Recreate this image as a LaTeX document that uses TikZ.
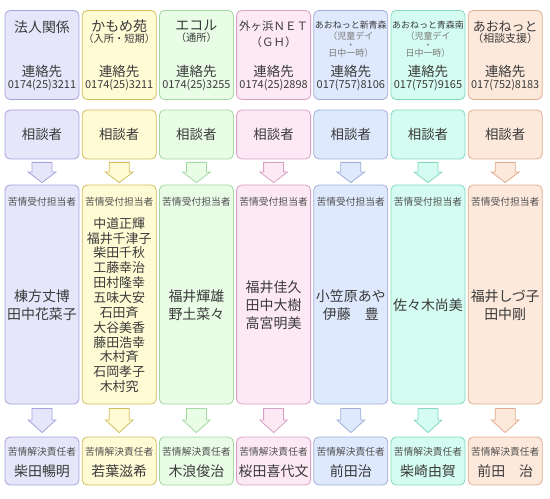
\documentclass[tikz,border=0pt]{standalone}
\usepackage{fontspec}
\setmainfont{Noto Sans CJK JP}
\usetikzlibrary{calc}
\definecolor{ink}{HTML}{3A3A3A}
\definecolor{tagink}{HTML}{505050}
\definecolor{subink}{HTML}{7A7A7A}
\definecolor{fillA}{HTML}{E6E6FB}\definecolor{lineA}{HTML}{A6A1DC}
\definecolor{fillB}{HTML}{FFFBD5}\definecolor{lineB}{HTML}{D0BE5C}
\definecolor{fillC}{HTML}{E8FCE6}\definecolor{lineC}{HTML}{A3D9A3}
\definecolor{fillD}{HTML}{FDE9F4}\definecolor{lineD}{HTML}{D7A0C5}
\definecolor{fillE}{HTML}{DEE9FD}\definecolor{lineE}{HTML}{9FAFD8}
\definecolor{fillF}{HTML}{D4FCF1}\definecolor{lineF}{HTML}{83D8C0}
\definecolor{fillG}{HTML}{FDE9DC}\definecolor{lineG}{HTML}{E0AC8F}

\begin{document}
\begin{tikzpicture}[x=1bp,y=-1bp,
    every node/.style={inner sep=0pt,text=ink},
    panel/.style={draw,rounded corners=5bp,line width=0.8pt,minimum width=74bp},
    bigtxt/.style={font=\fontsize{13.5}{16}\selectfont},
    nametxt/.style={font=\fontsize{14}{18}\selectfont,align=center},
    tagtxt/.style={font=\fontsize{9.8}{12}\selectfont,text=tagink},
    teltxt/.style={font=\fontsize{11}{13}\selectfont},
    blockarrow/.style={line width=0.8pt,line join=miter}
  ]
  \useasboundingbox (0,0) rectangle (550,499);

  % the panels of every column
  \foreach \i/\fc/\lc in {1/fillA/lineA,2/fillB/lineB,3/fillC/lineC,4/fillD/lineD,5/fillE/lineE,6/fillF/lineF,7/fillG/lineG}
  {
    \pgfmathsetmacro\cx{42+77.2*(\i-1)}
    \node[panel,fill=\fc,draw=\lc,minimum height=89bp] (top\i) at (\cx,55) {};
    \node[panel,fill=\fc,draw=\lc,minimum height=49bp] (ask\i) at (\cx,134.5) {};
    \node[panel,fill=\fc,draw=\lc,minimum height=219bp] (recv\i) at (\cx,294.5) {};
    \node[panel,fill=\fc,draw=\lc,minimum height=48bp] (resp\i) at (\cx,461) {};
    \node[bigtxt] (askt\i) at (ask\i) {相談者};
    \node[bigtxt] (cont\i) at (\cx,71.5) {連絡先};
    \node[tagtxt] (rtag\i) at (\cx,202) {苦情受付担当者};
    \node[tagtxt] (stag\i) at (\cx,452) {苦情解決責任者};
    % the arrows
    \coordinate (t\i) at ($(ask\i.south)+(0,3)$);
    \coordinate (h\i) at ($(recv\i.north)+(0,-2)$);
    \draw[blockarrow,fill=\fc,draw=\lc] (h\i) -- ($(t\i)!.48!(h\i)+(13.8,0)$) -- ($(t\i)!.48!(h\i)+(10,0)$)
      -- ($(t\i)+(10,0)$) -- ($(t\i)+(-10,0)$) -- ($(t\i)!.48!(h\i)+(-10,0)$) -- ($(t\i)!.48!(h\i)+(-13.8,0)$) -- cycle;
    \coordinate (u\i) at ($(recv\i.south)+(0,4)$);
    \coordinate (v\i) at ($(resp\i.north)+(0,-4)$);
    \draw[blockarrow,fill=\fc,draw=\lc] (v\i) -- ($(u\i)!.48!(v\i)+(13.8,0)$) -- ($(u\i)!.48!(v\i)+(10,0)$)
      -- ($(u\i)+(10,0)$) -- ($(u\i)+(-10,0)$) -- ($(u\i)!.48!(v\i)+(-10,0)$) -- ($(u\i)!.48!(v\i)+(-13.8,0)$) -- cycle;
  }

  % the phone numbers
  \foreach \i/\tel in {1/0174(25)3211,2/0174(25)3211,3/0174(25)3255,4/0174(25)2898,5/017(757)8106,6/017(757)9165,7/017(752)8183}
    \node[teltxt] (tel\i) at ($(cont\i)+(0,14)$) {\tel};

  % the titles
  \node[anchor=north,font=\fontsize{14}{16}\selectfont] (ttl1) at ($(top1.north)+(0,10)$) {法人関係};
  \node[anchor=north,align=center] (ttl2) at ($(top2.north)+(0,10)$)
    {\fontsize{14}{16}\selectfont かもめ苑\\[-1pt]\fontsize{10.3}{12}\selectfont （入所・短期）};
  \node[anchor=north,align=center] (ttl3) at ($(top3.north)+(0,10)$)
    {\fontsize{14}{16}\selectfont エコル\\[-1pt]\fontsize{10.3}{12}\selectfont （通所）};
  \node[anchor=north,align=center,font=\fontsize{11.5}{16}\selectfont] (ttl4) at ($(top4.north)+(0,11)$)
    {外ヶ浜ＮＥＴ\\（ＧＨ）};
  \node[anchor=north,align=center,font=\fontsize{9}{11}\selectfont] (ttl5) at ($(top5.north)+(0,11)$)
    {あおねっと新青森\\\color{subink}（児童デイ\\[-2.7pt]\color{subink}・\\[-2.7pt]\color{subink}日中一時）};
  \node[anchor=north,align=center,font=\fontsize{9}{11}\selectfont] (ttl6) at ($(top6.north)+(0,11)$)
    {あおねっと青森南\\\color{subink}（児童デイ\\[-2.7pt]\color{subink}・\\[-2.7pt]\color{subink}日中一時）};
  \node[anchor=north,align=center] (ttl7) at ($(top7.north)+(0,11)$)
    {\fontsize{13}{16}\selectfont あおねっと\\[-1pt]\fontsize{11}{12}\selectfont （相談支援）};

  % the people who receive
  \node[nametxt] (rn1) at (42,305) {棟方丈博\\田中花菜子};
  \node[nametxt,font=\fontsize{13}{14.9}\selectfont] (rn2) at (119.2,305)
    {中道正輝\\福井千津子\\柴田千秋\\工藤幸治\\田村隆幸\\五味大安\\石田斉\\大谷美香\\藤田浩幸\\木村斉\\石岡孝子\\木村究};
  \node[nametxt] (rn3) at (196.4,305) {福井輝雄\\野土菜々};
  \node[nametxt] (rn4) at (273.6,305) {福井佳久\\田中大樹\\高宮明美};
  \node[nametxt] (rn5) at (350.8,305) {小笠原あや\\伊藤　豊};
  \node[nametxt] (rn6) at (428,305) {佐々木尚美};
  \node[nametxt] (rn7) at (505.2,305) {福井しづ子\\田中剛};

  % the people who resolve
  \foreach \i/\who in {1/柴田暢明,2/若葉滋希,3/木浪俊治,4/桜田喜代文,5/前田治,6/柴崎由賀,7/前田　治}
    \node[nametxt] (sn\i) at ($(stag\i)+(0,19)$) {\who};
\end{tikzpicture}
\end{document}
